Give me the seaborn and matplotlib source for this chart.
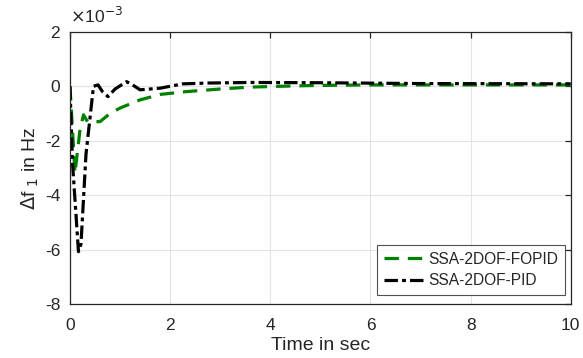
import numpy as np
import pandas as pd
import matplotlib
matplotlib.use('Agg')
import matplotlib.pyplot as plt
import seaborn as sns

sns.set_style('whitegrid')
plt.rcParams['font.family'] = ['Liberation Sans', 'DejaVu Sans']
plt.rcParams['axes.unicode_minus'] = False

# frequency deviation of area 1 (units of 1e-3 Hz)
t_fopid = [0, 0.1, 0.2, 0.27, 0.35, 0.6, 0.8, 1.0, 1.4, 1.8, 2.3, 3.0, 3.6, 4.2, 4.9, 6.0, 7.6, 10]
df_fopid = [0, -3.2, -1.6, -1.05, -1.3, -1.3, -1.0, -0.8, -0.5, -0.3, -0.2, -0.1, -0.03, 0.0, 0.03, 0.05, 0.05, 0.05]

t_pid = [0, 0.05, 0.17, 0.22, 0.32, 0.47, 0.56, 0.65, 0.76, 0.9, 1.13, 1.25, 1.4, 1.8, 2.26, 2.8, 3.6, 5.0, 7.0, 10]
df_pid = [0, -2.8, -6.08, -5.8, -2.5, 0.0, 0.05, -0.2, -0.38, -0.1, 0.17, 0.05, -0.13, -0.07, 0.09, 0.12, 0.14, 0.13, 0.1, 0.09]

labels = ['SSA-2DOF-FOPID', 'SSA-2DOF-PID']

d1 = pd.DataFrame({'t': t_fopid, 'df': df_fopid, 'ctrl': labels[0]})
d2 = pd.DataFrame({'t': t_pid, 'df': df_pid, 'ctrl': labels[1]})

fig = plt.figure(figsize=(5.83, 3.58), dpi=100)
ax = fig.add_axes([0.120, 0.151, 0.859, 0.760])

sns.lineplot(data=d1, x='t', y='df', ax=ax, color='#008000', linewidth=2.3,
             linestyle=(0, (4.5, 2.8)), label=labels[0], sort=False)
sns.lineplot(data=d2, x='t', y='df', ax=ax, color='black', linewidth=2.3,
             linestyle=(0, (4.2, 1.3, 1.2, 1.3)), label=labels[1], sort=False)

ax.set_xlim(0, 10)
ax.set_ylim(-8, 2)
ax.set_xticks([0, 2, 4, 6, 8, 10])
ax.set_yticks([-8, -6, -4, -2, 0, 2])
ax.grid(True, color='#e3e3e3', linewidth=0.8)
for s in ax.spines.values():
    s.set_color('#262626')
    s.set_linewidth(0.9)
ax.tick_params(direction='in', length=4, top=True, right=True, labelsize=12.5,
               colors='#262626', width=0.9)
ax.tick_params(axis='x', pad=10)
ax.tick_params(axis='y', pad=7)
ax.set_xlabel('Time in sec', fontsize=14, color='#262626', labelpad=3)
ax.set_ylabel(r'$\Delta$f$_{\ 1}$ in Hz', fontsize=14, color='#262626', labelpad=3)
ax.text(0.0, 1.02, r'$\times$10$^{-3}$', transform=ax.transAxes, fontsize=12.5,
        color='#262626', ha='left', va='bottom')

leg = ax.legend(loc='lower right', fontsize=11.2, frameon=True, fancybox=False,
                edgecolor='#262626', handlelength=2.5, handletextpad=0.3,
                borderpad=0.45, labelspacing=0.4, borderaxespad=0,
                bbox_to_anchor=(0.988, 0.033))
leg.get_frame().set_linewidth(0.8)

fig.savefig('out.png', dpi=100)
